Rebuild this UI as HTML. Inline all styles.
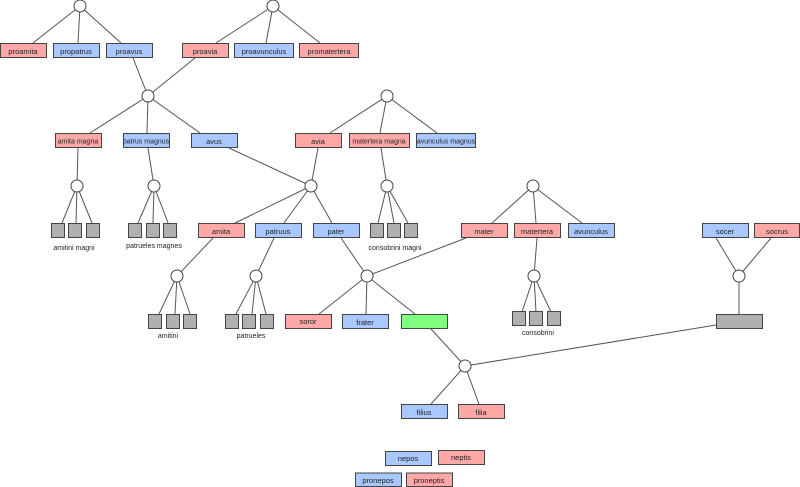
<!DOCTYPE html>
<html><head><meta charset="utf-8"><style>
html,body{margin:0;padding:0;background:#fff;width:800px;height:487px;overflow:hidden}
svg{display:block}
text{font-family:"Liberation Sans",sans-serif;font-size:7.5px;fill:#222;text-anchor:middle}
text.s{font-size:7px}
.r{fill:#ffa8a8;stroke:#444;stroke-width:1}
.b{fill:#a8c8ff;stroke:#444;stroke-width:1}
.g{fill:#b0b0b0;stroke:#444;stroke-width:1}
.gr{fill:#80ff80;stroke:#444;stroke-width:1}
.c{fill:#fff;stroke:#444;stroke-width:1}
line{stroke:#555;stroke-width:1}
</style></head><body>
<svg width="800" height="487" viewBox="0 0 800 487">
<g>
<line x1="80" y1="6" x2="33" y2="43"/><line x1="80" y1="6" x2="78" y2="43"/><line x1="80" y1="6" x2="121" y2="43"/>
<line x1="273" y1="6" x2="216" y2="43"/><line x1="273" y1="6" x2="266" y2="43"/><line x1="273" y1="6" x2="320" y2="43"/>
<line x1="133" y1="58" x2="148" y2="96"/><line x1="195" y1="58" x2="148" y2="96"/>
<line x1="148" y1="96" x2="90" y2="133"/><line x1="148" y1="96" x2="147" y2="133"/><line x1="148" y1="96" x2="200" y2="133"/>
<line x1="387" y1="96" x2="330" y2="133"/><line x1="387" y1="96" x2="380" y2="133"/><line x1="387" y1="96" x2="437" y2="133"/>
<line x1="78" y1="148" x2="77" y2="186"/><line x1="148" y1="148" x2="154" y2="186"/>
<line x1="229" y1="148" x2="311" y2="186"/><line x1="318" y1="148" x2="311" y2="186"/>
<line x1="381" y1="148" x2="387" y2="186"/>
<line x1="77" y1="186" x2="62" y2="223"/><line x1="77" y1="186" x2="76" y2="223"/><line x1="77" y1="186" x2="92" y2="223"/>
<line x1="154" y1="186" x2="138" y2="223"/><line x1="154" y1="186" x2="153" y2="223"/><line x1="154" y1="186" x2="168" y2="223"/>
<line x1="311" y1="186" x2="235" y2="223"/><line x1="311" y1="186" x2="284" y2="223"/><line x1="311" y1="186" x2="332" y2="223"/>
<line x1="387" y1="186" x2="378" y2="223"/><line x1="387" y1="186" x2="394" y2="223"/><line x1="387" y1="186" x2="408" y2="223"/>
<line x1="533" y1="186" x2="492" y2="223"/><line x1="533" y1="186" x2="536" y2="223"/><line x1="533" y1="186" x2="582" y2="223"/>
<line x1="213" y1="238" x2="177" y2="276"/><line x1="274" y1="238" x2="256" y2="276"/>
<line x1="341" y1="238" x2="367" y2="276"/><line x1="466" y1="238" x2="367" y2="276"/>
<line x1="537" y1="238" x2="534" y2="276"/>
<line x1="716" y1="238" x2="739" y2="276"/><line x1="771" y1="238" x2="739" y2="276"/>
<line x1="177" y1="276" x2="159" y2="314"/><line x1="177" y1="276" x2="175" y2="314"/><line x1="177" y1="276" x2="190" y2="314"/>
<line x1="256" y1="276" x2="236" y2="314"/><line x1="256" y1="276" x2="252" y2="314"/><line x1="256" y1="276" x2="266" y2="314"/>
<line x1="367" y1="276" x2="319" y2="314"/><line x1="367" y1="276" x2="366" y2="314"/><line x1="367" y1="276" x2="415" y2="314"/>
<line x1="534" y1="276" x2="522" y2="312"/><line x1="534" y1="276" x2="536" y2="312"/><line x1="534" y1="276" x2="551" y2="312"/>
<line x1="739" y1="276" x2="739" y2="314"/>
<line x1="431" y1="329" x2="465" y2="366"/><line x1="716" y1="325" x2="465" y2="366"/>
<line x1="465" y1="366" x2="431" y2="404"/><line x1="465" y1="366" x2="479" y2="404"/>
</g>
<g>
<circle class="c" cx="80" cy="6" r="6"/><circle class="c" cx="273" cy="6" r="6"/>
<circle class="c" cx="148" cy="96" r="6"/><circle class="c" cx="387" cy="96" r="6"/>
<circle class="c" cx="77" cy="186" r="6"/><circle class="c" cx="154" cy="186" r="6"/><circle class="c" cx="311" cy="186" r="6"/><circle class="c" cx="387" cy="186" r="6"/><circle class="c" cx="533" cy="186" r="6"/>
<circle class="c" cx="177" cy="276" r="6"/><circle class="c" cx="256" cy="276" r="6"/><circle class="c" cx="367" cy="276" r="6"/><circle class="c" cx="534" cy="276" r="6"/><circle class="c" cx="739" cy="276" r="6"/>
<circle class="c" cx="465" cy="366" r="6"/>
</g>
<g>
<rect class="r" x="0.5" y="43.5" width="46" height="14"/><text x="23" y="54">proamita</text>
<rect class="b" x="53.5" y="43.5" width="46" height="14"/><text x="76" y="54">propatrus</text>
<rect class="b" x="106.5" y="43.5" width="46" height="14"/><text x="129" y="54">proavus</text>
<rect class="r" x="182.5" y="43.5" width="46" height="14"/><text x="205" y="54">proavia</text>
<rect class="b" x="234.5" y="43.5" width="59" height="14"/><text x="264" y="54">proavunculus</text>
<rect class="r" x="299.5" y="43.5" width="59" height="14"/><text x="329" y="54">promatertera</text>

<rect class="r" x="55.5" y="133.5" width="46" height="14"/><text class="s" x="78" y="143.5">amita magna</text>
<rect class="b" x="123.5" y="133.5" width="46" height="14"/><text class="s" x="146" y="143.5">patrus magnus</text>
<rect class="b" x="191.5" y="133.5" width="46" height="14"/><text x="214" y="144">avus</text>
<rect class="r" x="295.5" y="133.5" width="46" height="14"/><text x="318" y="144">avia</text>
<rect class="r" x="349.5" y="133.5" width="60" height="14"/><text class="s" x="379" y="143.5">matertera magna</text>
<rect class="b" x="416.5" y="133.5" width="59" height="14"/><text class="s" x="446" y="143.5">avunculus magnus</text>

<rect class="g" x="51.5" y="223.5" width="13" height="14"/><rect class="g" x="68.5" y="223.5" width="13" height="14"/><rect class="g" x="86.5" y="223.5" width="13" height="14"/>
<rect class="g" x="128.5" y="223.5" width="13" height="14"/><rect class="g" x="146.5" y="223.5" width="13" height="14"/><rect class="g" x="163.5" y="223.5" width="13" height="14"/>
<rect class="r" x="198.5" y="223.5" width="46" height="14"/><text x="221" y="234">amita</text>
<rect class="b" x="255.5" y="223.5" width="46" height="14"/><text x="278" y="234">patruus</text>
<rect class="b" x="313.5" y="223.5" width="46" height="14"/><text x="336" y="234">pater</text>
<rect class="g" x="370.5" y="223.5" width="13" height="14"/><rect class="g" x="387.5" y="223.5" width="13" height="14"/><rect class="g" x="404.5" y="223.5" width="13" height="14"/>
<rect class="r" x="461.5" y="223.5" width="46" height="14"/><text x="484" y="234">mater</text>
<rect class="r" x="514.5" y="223.5" width="46" height="14"/><text x="537" y="234">matertera</text>
<rect class="b" x="568.5" y="223.5" width="46" height="14"/><text x="591" y="234">avunculus</text>
<rect class="b" x="702.5" y="223.5" width="46" height="14"/><text x="725" y="234">socer</text>
<rect class="r" x="754.5" y="223.5" width="45" height="14"/><text x="777" y="234">socrus</text>
<text class="s" x="74" y="250">amitini magni</text>
<text class="s" x="154" y="248">patrueles magnes</text>
<text class="s" x="395" y="250">consobrini magni</text>

<rect class="g" x="148.5" y="314.5" width="13" height="14"/><rect class="g" x="166.5" y="314.5" width="13" height="14"/><rect class="g" x="183.5" y="314.5" width="13" height="14"/>
<rect class="g" x="225.5" y="314.5" width="13" height="14"/><rect class="g" x="242.5" y="314.5" width="13" height="14"/><rect class="g" x="260.5" y="314.5" width="13" height="14"/>
<rect class="r" x="285.5" y="314.5" width="46" height="14"/><text x="308" y="324">soror</text>
<rect class="b" x="342.5" y="314.5" width="46" height="14"/><text x="365" y="325">frater</text>
<rect class="gr" x="401.5" y="314.5" width="46" height="14"/>
<rect class="g" x="512.5" y="311.5" width="13" height="14"/><rect class="g" x="529.5" y="311.5" width="13" height="14"/><rect class="g" x="547.5" y="311.5" width="13" height="14"/>
<rect class="g" x="716.5" y="314.5" width="46" height="14"/>
<text class="s" x="168" y="338">amitini</text>
<text class="s" x="251" y="338">patrueles</text>
<text class="s" x="538" y="335">consobrini</text>

<rect class="b" x="401.5" y="404.5" width="46" height="14"/><text x="424" y="415">filius</text>
<rect class="r" x="458.5" y="404.5" width="46" height="14"/><text x="481" y="415">filia</text>

<rect class="b" x="385.5" y="451.5" width="46" height="14"/><text x="408" y="461">nepos</text>
<rect class="r" x="438.5" y="450.5" width="46" height="14"/><text x="461" y="460">neptis</text>
<rect class="b" x="355.5" y="473" width="46" height="13.5"/><text x="378" y="483">pronepos</text>
<rect class="r" x="406.5" y="473" width="46" height="13.5"/><text x="429" y="483">proneptis</text>
</g>
</svg>
</body></html>
